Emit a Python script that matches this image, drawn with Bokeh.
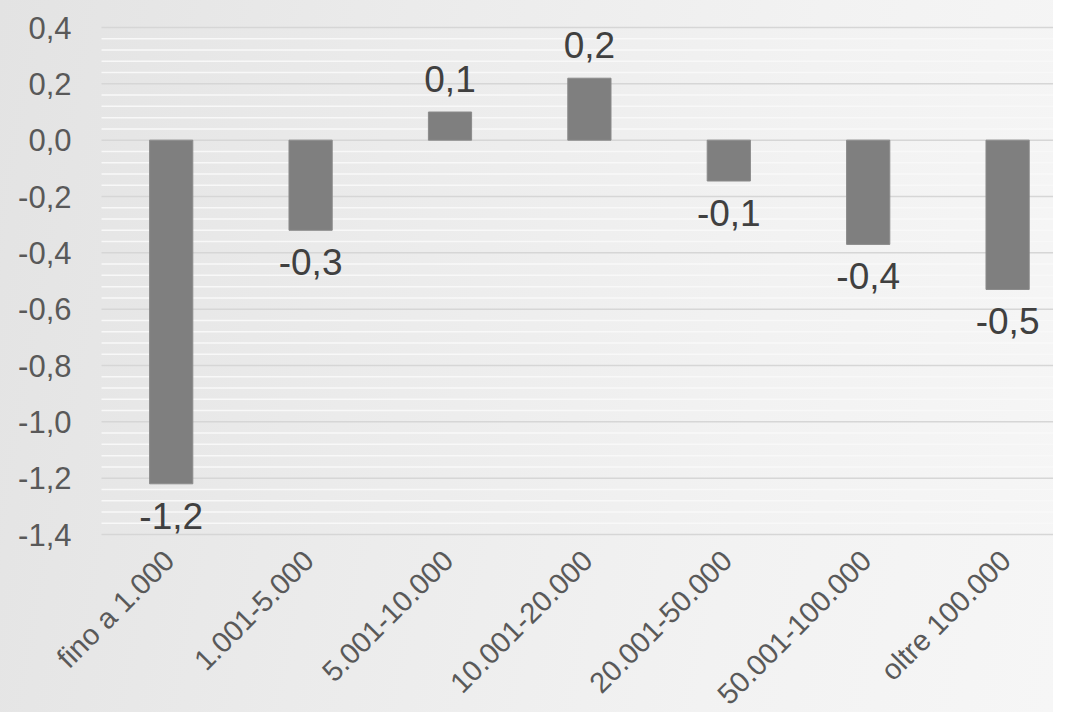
import math
from bokeh.plotting import figure
from bokeh.models import ColumnDataSource, Range1d, LabelSet
from bokeh.core.properties import value
from bokeh.embed import file_html
from bokeh.resources import INLINE

# ---- data ----
categories = ["fino a 1.000", "1.001-5.000", "5.001-10.000", "10.001-20.000",
              "20.001-50.000", "50.001-100.000", "oltre 100.000"]
values = [-1.22, -0.32, 0.10, 0.22, -0.145, -0.37, -0.53]
value_labels = ["-1,2", "-0,3", "0,1", "0,2", "-0,1", "-0,4", "-0,5"]
y_ticks = [0.4, 0.2, 0.0, -0.2, -0.4, -0.6, -0.8, -1.0, -1.2, -1.4]
y_tick_labels = ["0,4", "0,2", "0,0", "-0,2", "-0,4", "-0,6", "-0,8", "-1,0", "-1,2", "-1,4"]

xs = list(range(len(categories)))
FONT = "Liberation Sans"
y_min, y_max = min(y_ticks), max(y_ticks)

# minor gridlines: 5 subdivisions between major ticks
step = (y_max - y_min) / (len(y_ticks) - 1)
minor = []
for k in range(len(y_ticks) - 1):
    for j in range(1, 5):
        minor.append(round(y_min + k * step + j * step / 5, 6))

# ---- layout (pixels) ----
W, H = 1053, 712
PLOT_L, PLOT_T, PLOT_H = 101, 27, 507        # value area inside the canvas
CAT_W = 139.4                                # px per category
px_per_unit = PLOT_H / (y_max - y_min)
x_lo = -0.5 - PLOT_L / CAT_W
x_hi = -0.5 + (W - PLOT_L) / CAT_W
y_hi = y_max + PLOT_T / px_per_unit
y_lo = y_min - (H - PLOT_T - PLOT_H) / px_per_unit

p = figure(width=W, height=H, output_backend="svg", toolbar_location=None,
           x_range=Range1d(x_lo, x_hi), y_range=Range1d(y_lo, y_hi),
           min_border_left=0, min_border_right=0, min_border_top=0, min_border_bottom=0)
p.axis.visible = False
p.grid.visible = False
p.styles = {"background": "linear-gradient(100deg, #e3e3e3 0%, #ebebeb 35%, #f2f2f2 70%, #f6f6f6 100%)"}
p.border_fill_color = None
p.background_fill_color = None
p.outline_line_color = None

# grid lines (only across the value area)
p.segment(x0=[-0.5] * len(minor), x1=[x_hi] * len(minor), y0=minor, y1=minor,
          line_color="#f8f8f8", line_width=1.5)
p.segment(x0=[-0.5] * len(y_ticks), x1=[x_hi] * len(y_ticks), y0=y_ticks, y1=y_ticks,
          line_color="#d6d6d6", line_width=1.5)

# y tick labels
p.text(x=[-0.5] * len(y_ticks), y=y_ticks, text=y_tick_labels, x_offset=-30,
       text_font=value(FONT), text_font_size="31px", text_color="#595959",
       text_align="right", text_baseline="middle")

# bars
src = ColumnDataSource(dict(x=xs, top=values))
p.vbar(x="x", top="top", bottom=0, width=0.31, source=src,
       fill_color="#7f7f7f", line_color="#8a8a8a", line_width=1)

# value labels
pos = [i for i, v in enumerate(values) if v >= 0]
neg = [i for i, v in enumerate(values) if v < 0]
src_pos = ColumnDataSource(dict(x=[xs[i] for i in pos], y=[values[i] for i in pos],
                                t=[value_labels[i] for i in pos]))
src_neg = ColumnDataSource(dict(x=[xs[i] for i in neg], y=[values[i] for i in neg],
                                t=[value_labels[i] for i in neg]))
common = dict(text="t", text_font=value(FONT), text_font_size="37px",
              text_color="#404040", text_align="center", text_baseline="alphabetic")
p.text(x="x", y="y", source=src_pos, y_offset=-33, **common)
p.text(x="x", y="y", source=src_neg, y_offset=32, **common)

# category labels, rotated, under the -1,4 line
cat_src = ColumnDataSource(dict(x=xs, y=[y_min] * len(xs), t=categories))
p.add_layout(LabelSet(x="x", y="y", text="t", source=cat_src, angle=math.pi / 4,
                      x_offset=-2, y_offset=-21, text_align="right", text_baseline="middle",
                      text_font=value(FONT), text_font_size="29px", text_color="#595959"))

open("out.html", "w").write(file_html(p, INLINE))
